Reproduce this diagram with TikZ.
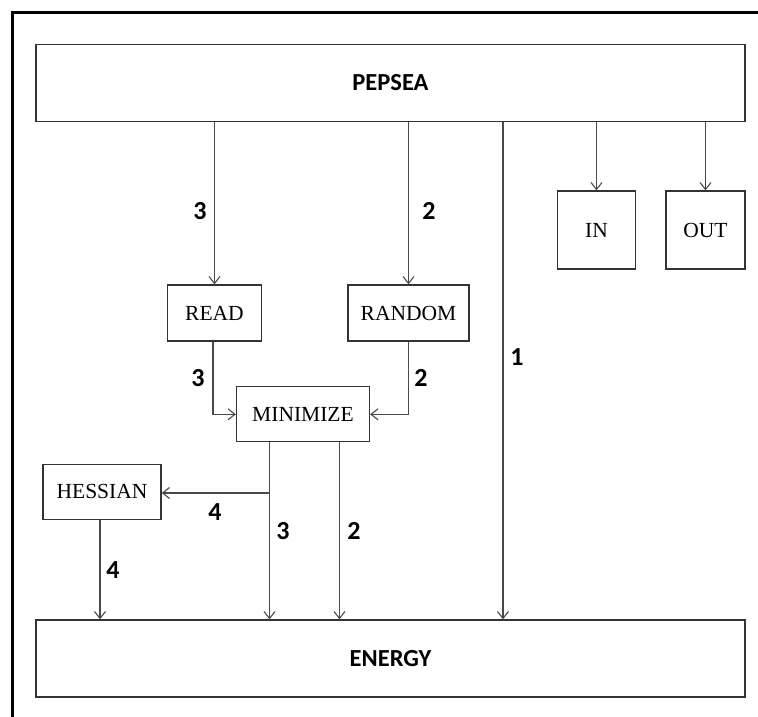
\documentclass[tikz,border=0pt]{standalone}
\usepackage{fontspec}
\usetikzlibrary{arrows.meta}
\newfontfamily\boxfont{Liberation Serif}
\newfontfamily\labfont{Carlito}
\definecolor{boxline}{HTML}{333333}
\definecolor{arrline}{HTML}{4A4A4A}
\tikzset{
  box/.style={draw=boxline, line width=1.3pt, rectangle, inner sep=0pt, align=center},
  smallbox/.style={box, font=\boxfont\fontsize{21.5}{25}\selectfont},
  bigbox/.style={box, font=\labfont\bfseries\fontsize{24.5}{28}\selectfont},
  conn/.style={draw=arrline, line width=1.2pt, -{Straight Barb[length=7pt,width=11pt,line width=1.1pt]}},
  num/.style={font=\labfont\bfseries\fontsize{26}{30}\selectfont, inner sep=0pt}
}
\begin{document}
\begin{tikzpicture}[x=1pt,y=-1pt]
\useasboundingbox (0,0) rectangle (758,717);
\draw[line width=3pt, black] (12.5,717) -- (12.5,12.5) -- (758,12.5);
% boxes
\node[bigbox, minimum width=709pt, minimum height=77pt] (pep) at (390.5,82.75) {PEPSEA};
\node[bigbox, minimum width=709pt, minimum height=77pt] (energy) at (390.5,658.5) {ENERGY};
\node[smallbox, minimum width=78pt, minimum height=78pt] (in) at (596.5,230) {IN};
\node[smallbox, minimum width=79pt, minimum height=78pt] (out) at (705.5,230) {OUT};
\node[smallbox, minimum width=94pt, minimum height=56pt] (read) at (214.5,313) {READ};
\node[smallbox, minimum width=121pt, minimum height=56pt] (random) at (408.5,313) {RANDOM};
\node[smallbox, minimum width=133pt, minimum height=55pt] (min) at (303,414.3) {MINIMIZE};
\node[smallbox, minimum width=118pt, minimum height=55pt] (hess) at (102,491.7) {HESSIAN};
% connectors from PEPSEA
\draw[conn] (pep.south -| read.north) -- (read.north);
\draw[conn] (pep.south -| random.north) -- (random.north);
\draw[conn] (pep.south -| 503,0) -- (energy.north -| 503,0);
\draw[conn] (pep.south -| in.north) -- (in.north);
\draw[conn] (pep.south -| out.north) -- (out.north);
% into MINIMIZE
\draw[conn] (read.south -| 213,0) |- (min.west);
\draw[conn] (random.south) |- (min.east);
% out of MINIMIZE
\coordinate (split) at (269.5,493);
\draw[conn] (min.south -| split) -- (energy.north -| split);
\draw[conn] (split) -- (hess.east |- split);
\draw[conn] (min.south -| 339.5,0) -- (energy.north -| 339.5,0);
\draw[conn] (hess.south -| 100,0) -- (energy.north -| 100,0);
% labels
\node[num] (l1) at (200,211) {3};
\node[num] (l2) at (429,211) {2};
\node[num] (l3) at (517,357) {1};
\node[num] (l4) at (198,378) {3};
\node[num] (l5) at (421,378) {2};
\node[num] (l6) at (215,512) {4};
\node[num] (l7) at (283,531) {3};
\node[num] (l8) at (354,531) {2};
\node[num] (l9) at (113,570) {4};
\end{tikzpicture}
\end{document}
